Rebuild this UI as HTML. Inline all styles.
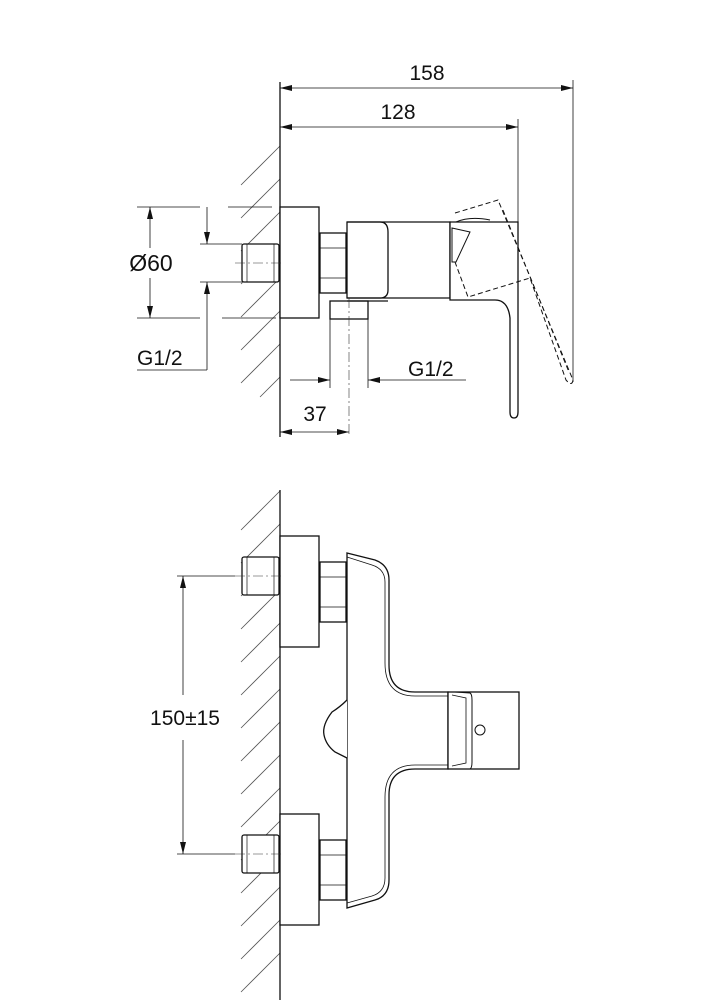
<!DOCTYPE html>
<html><head><style>body{margin:0;background:#fff}svg{display:block}text{font-family:"Liberation Sans",sans-serif;fill:#111}</style></head>
<body>
<svg width="708" height="1000" viewBox="0 0 708 1000" xmlns="http://www.w3.org/2000/svg">
<defs>
<marker id="a" markerWidth="12" markerHeight="8" refX="12" refY="4" orient="auto-start-reverse" markerUnits="userSpaceOnUse"><path d="M0,1 L12,4 L0,7 Z" fill="#111"/></marker>
</defs>
<g stroke="#555" stroke-width="0.8" fill="none">
<path d="M241,185 L280,146 M241,218 L280,179 M241,251 L280,212 M241,284 L280,245 M241,317 L280,278 M241,350 L280,311 M241,383 L280,344 M260,397 L280,377"/>
<path d="M241,530 L280,491 M241,563 L280,524 M241,596 L280,557 M241,629 L280,590 M241,662 L280,623 M241,695 L280,656 M241,728 L280,689 M241,761 L280,722 M241,794 L280,755 M241,827 L280,788 M241,860 L280,821 M241,893 L280,854 M241,926 L280,887 M241,959 L280,920 M241,992 L280,953"/>
</g>
<g stroke="#111" stroke-width="1.3" fill="#fff">
<line x1="280" y1="82" x2="280" y2="437"/>
<rect x="280" y="207" width="39" height="111"/>
<rect x="242" y="244" width="37" height="38" rx="2"/>
<line x1="247" y1="244" x2="247" y2="282" stroke-width="0.7"/>
<line x1="274" y1="244" x2="274" y2="282" stroke-width="0.7"/>
<rect x="320" y="233" width="26" height="60"/>
<line x1="320" y1="248" x2="346" y2="248" stroke-width="0.7"/><line x1="320" y1="278" x2="346" y2="278" stroke-width="0.7"/>
<rect x="330" y="301" width="38" height="18"/>
<path d="M347,222 L450,222 L450,298 L347,298 Z"/>
<path d="M347,222 L380,222 Q388,222 388,232 L388,290 Q388,298 380,298 L347,298" fill="none"/>
<line x1="347" y1="301" x2="388" y2="301"/>
<path d="M450,222 L518,222 L518,412 Q518,418 514,418 Q510,418 510,412 L510,318 Q508,300 495,300 L450,300 Z"/>
<path d="M452,228 L470,232 L456,262 L452,262 Z" fill="none" stroke-width="1"/>
<path d="M456,222 Q470,216 490,220" fill="none" stroke-width="1"/>
<path d="M455,213 L498,200 L573,380 Q572,387 566,380 L530,278 L468,297 L455,262" fill="none" stroke-dasharray="5,3" stroke-width="1"/>
<path d="M503,210 L568,370" fill="none" stroke-dasharray="5,3" stroke-width="0.8"/>

<line x1="280" y1="490" x2="280" y2="1000"/>
<rect x="280" y="536" width="39" height="111"/>
<rect x="280" y="814" width="39" height="111"/>
<rect x="242" y="557" width="37" height="38" rx="2"/>
<rect x="242" y="835" width="37" height="38" rx="2"/>
<line x1="247" y1="557" x2="247" y2="595" stroke-width="0.7"/><line x1="274" y1="557" x2="274" y2="595" stroke-width="0.7"/>
<line x1="247" y1="835" x2="247" y2="873" stroke-width="0.7"/><line x1="274" y1="835" x2="274" y2="873" stroke-width="0.7"/>
<rect x="320" y="562" width="26" height="60"/>
<rect x="320" y="840" width="26" height="60"/>
<line x1="320" y1="577" x2="346" y2="577" stroke-width="0.7"/><line x1="320" y1="607" x2="346" y2="607" stroke-width="0.7"/>
<line x1="320" y1="855" x2="346" y2="855" stroke-width="0.7"/><line x1="320" y1="885" x2="346" y2="885" stroke-width="0.7"/>
<path d="M347,553 L375,560 Q389,565 389,580 L389,665 Q389,692 415,692 L448,692 L448,769 L415,769 Q389,769 389,795 L389,880 Q389,896 375,900 L347,908 Z"/>
<path d="M347,557 L372,565 Q385,569 385,582 L385,663 Q385,696 415,696 L448,696 M448,765 L415,765 Q385,765 385,797 L385,878 Q385,892 372,896 L347,903" fill="none" stroke-width="0.8"/>
<path d="M347,700 Q340,707 332,712 Q322,725 324,735 Q326,745 335,752 L347,758" fill="#fff"/>
<rect x="448" y="692" width="71" height="77"/>
<path d="M455,692 L470,693 Q472,694 472,700 L472,762 Q472,768 470,769 L455,769" fill="none" stroke-width="1"/>
<path d="M452,695 L466,698 L466,763 L452,766" fill="none" stroke-width="0.8"/>
<circle cx="480" cy="730" r="5" fill="#fff" stroke-width="1"/>
</g>

<g stroke="#333" stroke-width="0.6" stroke-dasharray="10,3,2,3" fill="none">
<line x1="235" y1="263" x2="283" y2="263"/>
<line x1="349" y1="298" x2="349" y2="437"/>
<line x1="235" y1="576" x2="283" y2="576"/>
<line x1="235" y1="854" x2="283" y2="854"/>
</g>

<g stroke="#111" stroke-width="0.8" fill="none">
<line x1="280" y1="88" x2="573" y2="88" marker-start="url(#a)" marker-end="url(#a)" />
<line x1="280" y1="127" x2="518" y2="127" marker-start="url(#a)" marker-end="url(#a)"/>
<line x1="573" y1="80" x2="573" y2="382"/>
<line x1="518" y1="119" x2="518" y2="222"/>
<line x1="137" y1="207" x2="200" y2="207"/><line x1="228" y1="207" x2="272" y2="207"/>
<line x1="137" y1="318" x2="200" y2="318"/><line x1="222" y1="318" x2="276" y2="318"/>
<line x1="150" y1="248" x2="150" y2="207" marker-end="url(#a)"/>
<line x1="150" y1="278" x2="150" y2="318" marker-end="url(#a)"/>
<line x1="200" y1="244" x2="242" y2="244"/><line x1="200" y1="282" x2="242" y2="282"/>
<line x1="207" y1="207" x2="207" y2="244" marker-end="url(#a)"/>
<line x1="207" y1="370" x2="207" y2="282" marker-end="url(#a)"/>
<line x1="137" y1="370" x2="207" y2="370"/>
<line x1="330" y1="319" x2="330" y2="388"/><line x1="368" y1="319" x2="368" y2="388"/>
<line x1="290" y1="380" x2="330" y2="380" marker-end="url(#a)"/>
<line x1="466" y1="380" x2="368" y2="380" marker-end="url(#a)"/>
<line x1="280" y1="432" x2="349" y2="432" marker-start="url(#a)" marker-end="url(#a)"/>
<line x1="177" y1="576" x2="235" y2="576"/><line x1="177" y1="854" x2="235" y2="854"/>
<line x1="183" y1="695" x2="183" y2="576" marker-end="url(#a)"/>
<line x1="183" y1="740" x2="183" y2="854" marker-end="url(#a)"/>
</g>
<g font-size="21">
<text x="427" y="80" text-anchor="middle">158</text>
<text x="398" y="119" text-anchor="middle">128</text>
<text x="151" y="271" text-anchor="middle" font-size="23">Ø60</text>
<text x="137" y="365">G1/2</text>
<text x="408" y="376">G1/2</text>
<text x="315" y="421" text-anchor="middle">37</text>
<text x="185" y="725" text-anchor="middle">150±15</text>
</g>
</svg>
</body></html>
